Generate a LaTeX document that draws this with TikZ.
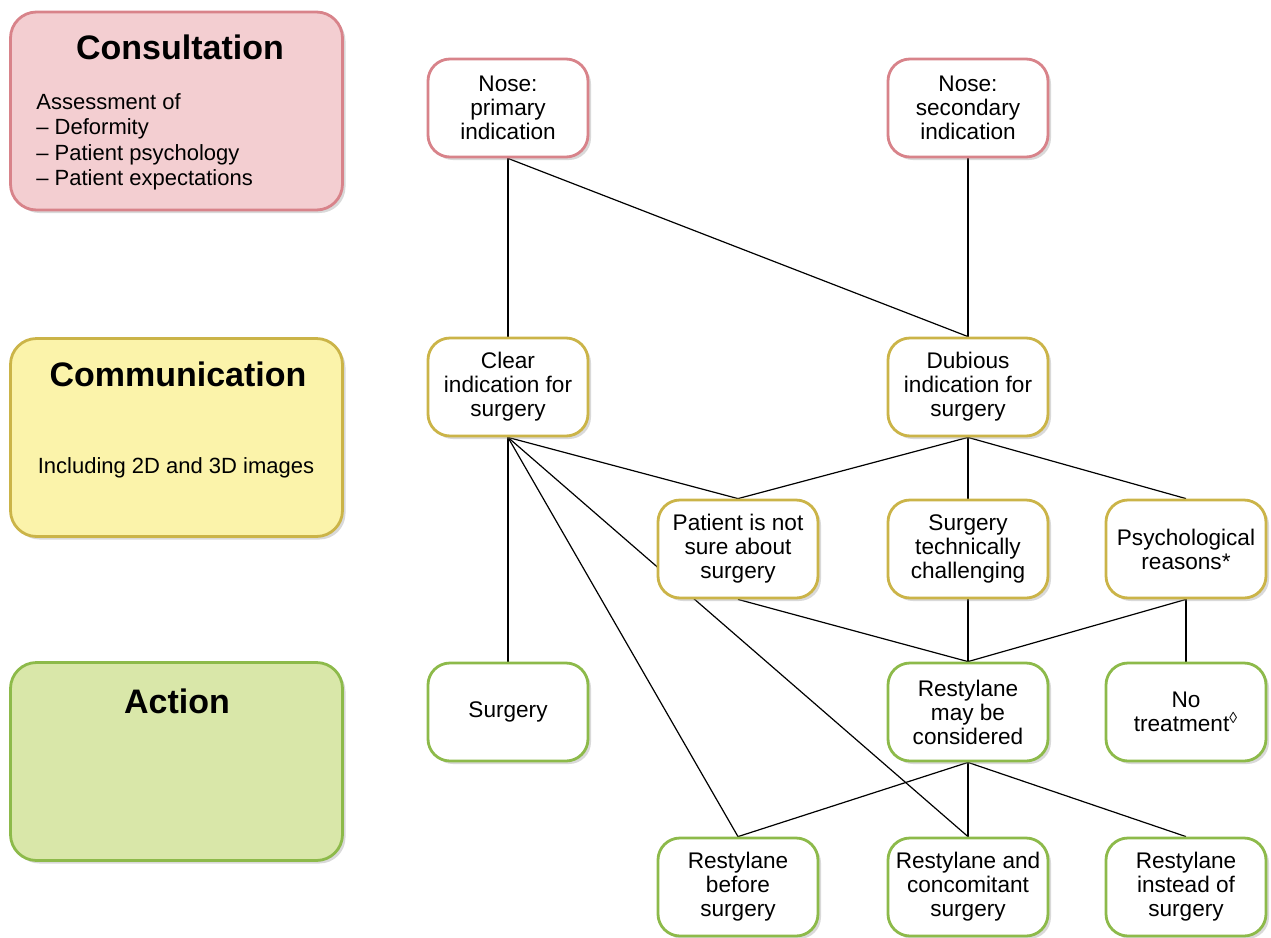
\documentclass[tikz,border=0pt]{standalone}
\usepackage{fontspec}
\setmainfont{Liberation Sans}
\usetikzlibrary{shadows}
\definecolor{consultfill}{HTML}{F3CED1}
\definecolor{consultline}{HTML}{D8838A}
\definecolor{communfill}{HTML}{FBF3AA}
\definecolor{communline}{HTML}{CBB448}
\definecolor{actionfill}{HTML}{D9E7A9}
\definecolor{actionline}{HTML}{8DBA4A}
\pgfdeclarelayer{background}
\pgfsetlayers{background,main}
\begin{document}
\begin{tikzpicture}
	[x=0.5pt, y=-0.5pt, font=\fontsize{11.3}{12}\selectfont,
	box/.style={draw, line width=1.4pt, fill=white, rounded corners=11pt,
		minimum width=80pt, minimum height=49pt, align=center, inner sep=2pt,
		drop shadow={shadow xshift=1.5pt, shadow yshift=-1.5pt, opacity=0.3}},
	panel/.style={draw, line width=1.4pt, rounded corners=13pt,
		minimum width=166pt, minimum height=99pt,
		drop shadow={shadow xshift=1.5pt, shadow yshift=-1.5pt, opacity=0.3}},
	head/.style={font=\fontsize{17}{20}\selectfont\bfseries},
	link/.style={line width=0.6pt}]
	\useasboundingbox (0,0) rectangle (1271,938);
	% left column
	\node[panel, draw=consultline, fill=consultfill] (consult) at (176.5,111) {};
	\node[panel, draw=communline, fill=communfill] (commun) at (176.5,437.5) {};
	\node[panel, draw=actionline, fill=actionfill] (action) at (176.5,761.5) {};
	\node[head] (consulthead) at (180,47) {Consultation};
	\node[anchor=north west, align=left, inner sep=0pt,
		font=\fontsize{11}{12.7}\selectfont] (consulttext) at (36,93)
		{Assessment of\\-- Deformity\\-- Patient psychology\\-- Patient expectations};
	\node[head] (communhead) at (178,374) {Communication};
	\node[font=\fontsize{11}{12}\selectfont] (communtext) at (176,468) {Including 2D and 3D images};
	\node[head] (actionhead) at (177,701) {Action};
	% flow boxes
	\node[box, draw=consultline] (nprim) at (508,108) {Nose:\\primary\\indication};
	\node[box, draw=consultline] (nsec) at (968,108) {Nose:\\secondary\\indication};
	\node[box, draw=communline] (clear) at (508,387) {Clear\\indication for\\surgery};
	\node[box, draw=communline] (dub) at (968,387) {Dubious\\indication for\\surgery};
	\node[box, draw=communline] (unsure) at (738,549) {Patient is not\\sure about\\surgery};
	\node[box, draw=communline] (techn) at (968,549) {Surgery\\technically\\challenging};
	\node[box, draw=communline] (psych) at (1186,549) {Psychological\\reasons*};
	\node[box, draw=actionline] (surg) at (508,712) {Surgery};
	\node[box, draw=actionline] (maybe) at (968,712) {Restylane\\may be\\considered};
	\node[box, draw=actionline] (notreat) at (1186,712) {No\\treatment\textsuperscript{◊}};
	\node[box, draw=actionline] (before) at (738,887) {Restylane\\before\\surgery};
	\node[box, draw=actionline] (concom) at (968,887) {Restylane and\\concomitant\\surgery};
	\node[box, draw=actionline] (instead) at (1186,887) {Restylane\\instead of\\surgery};
	% connectors
	\begin{pgfonlayer}{background}
	\draw[link] (nprim.south) edge (clear.north);
	\draw[link] (nprim.south) edge (dub.north);
	\draw[link] (nsec.south) edge (dub.north);
	\draw[link] (clear.south) edge (surg.north);
	\draw[link] (clear.south) edge (unsure.north);
	\draw[link] (clear.south) edge (before.north);
	\draw[link] (clear.south) edge (concom.north);
	\draw[link] (dub.south) edge (unsure.north);
	\draw[link] (dub.south) edge (techn.north);
	\draw[link] (dub.south) edge (psych.north);
	\draw[link] (unsure.south) edge (maybe.north);
	\draw[link] (techn.south) edge (maybe.north);
	\draw[link] (psych.south) edge (maybe.north);
	\draw[link] (psych.south) edge (notreat.north);
	\draw[link] (maybe.south) edge (before.north);
	\draw[link] (maybe.south) edge (concom.north);
	\draw[link] (maybe.south) edge (instead.north);
	\end{pgfonlayer}
\end{tikzpicture}
\end{document}
